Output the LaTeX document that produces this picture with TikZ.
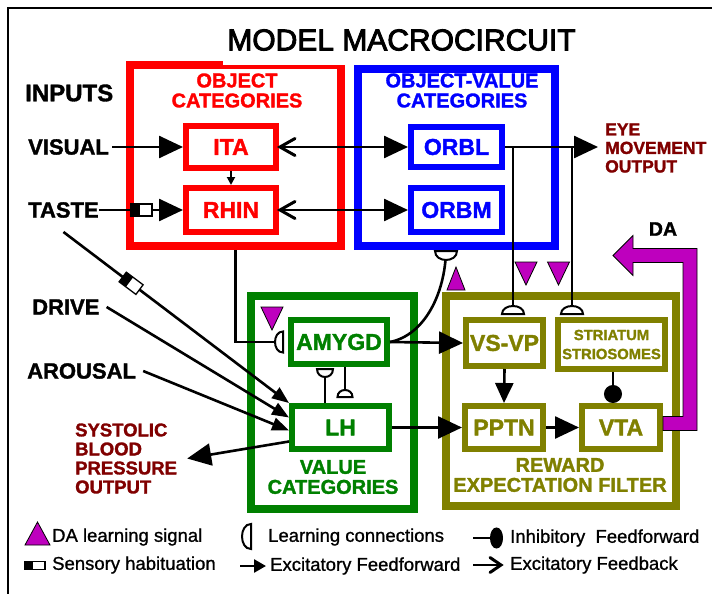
\documentclass[tikz,border=0pt]{standalone}
\usepackage{fontspec}
\setmainfont{Liberation Sans}[BoldFeatures={FakeBold=1.5}]
\newfontfamily\mcTitleFont{Liberation Sans}[FakeBold=3]
\newfontfamily\mcLegendFont{Liberation Sans}[FakeBold=1]
\usetikzlibrary{arrows.meta,calc}

\definecolor{olv}{RGB}{128,128,0}
\definecolor{grn}{RGB}{0,128,0}
\definecolor{maroon}{RGB}{128,0,0}
\definecolor{dapurple}{RGB}{190,0,190}

\newcommand\fLabel{\fontsize{23}{26}\selectfont\bfseries}
\newcommand\fTitle{\fontsize{20}{20}\selectfont\bfseries}
\newcommand\fSide{\fontsize{22}{26}\selectfont\bfseries}
\newcommand\fOut{\fontsize{17.5}{18.5}\selectfont\bfseries}
\newcommand\fSys{\fontsize{18.5}{19}\selectfont\bfseries}
\newcommand\fLegend{\mcLegendFont\fontsize{18.5}{22}\selectfont}
\newcommand\fStrio{\fontsize{14.8}{19}\selectfont\bfseries}

\tikzset{
  bigbox/.style={draw=#1, line width=8pt, inner sep=0pt},
  inbox/.style={draw=#1, text=#1, line width=6pt, inner sep=0pt, font=\fLabel},
  boxtitle/.style={text=#1, font=\fTitle, align=center, inner sep=0pt},
  sidelbl/.style={font=\fSide, inner sep=0pt, anchor=west},
  outlbl/.style={text=maroon, align=left, inner sep=0pt, anchor=west},
  legendtxt/.style={font=\fLegend, inner sep=0pt, anchor=west},
  conn/.style={line width=2.6pt},
  ff/.style={conn, -{Triangle[length=24pt,width=22pt]}},
  ffm/.style={conn, -{Triangle[length=17pt,width=13pt]}},
  ffv/.style={conn, -{Triangle[length=20pt,width=18pt]}},
  ffs/.style={line width=1.8pt, -{Triangle[length=8pt,width=8pt]}},
  inh/.style={conn, -{Circle[length=18pt]}},
  dasig/.style={fill=dapurple, draw=black, line width=0.8pt},
  synapse/.style={fill=white, draw=black, line width=2pt},
  pics/syn/.style 2 args={code={
    \draw[synapse] (-#1,0) .. controls (-#1,{-1.33*(#2)}) and (#1,{-1.33*(#2)}) .. (#1,0) -- cycle;}},
  pics/datri/.style 2 args={code={
    \draw[dasig] (-#1,0) -- (#1,0) -- (0,#2) -- cycle;}},
  pics/hab/.style={code={
    \draw[line width=1.3pt, fill=white] (-10.5,-6) rectangle (10.5,6);
    \fill (-10.5,-6) rectangle (-2,6);}},
  % open feedback head, tip at the origin, pointing to -x
  pics/fbhead/.style 2 args={code={
    \draw[line width=3pt, line cap=round, line join=miter]
      (#1,{-(#2)/2}) -- (0,0) -- (#1,{(#2)/2});}},
}

\begin{document}
\begin{tikzpicture}[x=1pt,y=-1pt]
\useasboundingbox (0,0) rectangle (712,594);

% page frame
\draw[line width=1.6pt] (8,594) -- (8,8) -- (712,8);

% outer region boxes
\node[bigbox=red,  minimum width=211pt, minimum height=181pt] (objcat) at (235.5,155.5) {};
\node[bigbox=blue, minimum width=197pt, minimum height=177pt] (ovcat)  at (456.5,157.5) {};
\node[bigbox=grn,  minimum width=163pt, minimum height=213pt] (valcat) at (332.5,402.5) {};
\node[bigbox=olv,  minimum width=230pt, minimum height=210pt] (refilt) at (561,401) {};

% region titles
\node[boxtitle=red]  (objt) at (237,90.5)  {OBJECT\\CATEGORIES};
\node[boxtitle=blue] (ovt)  at (462,90.5)  {OBJECT-VALUE\\CATEGORIES};
\node[boxtitle=grn]  (valt) at (333,477) {VALUE\\CATEGORIES};
\node[boxtitle=olv]  (reft) at (560,475) {REWARD\\EXPECTATION FILTER};

% inner boxes
\node[inbox=red,  minimum width=90pt, minimum height=42pt] (ita)  at (231,147) {ITA};
\node[inbox=red,  minimum width=90pt, minimum height=44pt] (rhin) at (231,210) {RHIN};
\node[inbox=blue, minimum width=91pt, minimum height=40pt] (orbl) at (456.5,147) {ORBL};
\node[inbox=blue, minimum width=91pt, minimum height=44pt] (orbm) at (456.5,210) {ORBM};
\node[inbox=grn,  minimum width=96pt, minimum height=44pt] (amygd) at (339,342) {AMYGD};
\node[inbox=grn,  minimum width=97pt, minimum height=43pt] (lh)    at (340.5,427.5) {LH};
\node[inbox=olv,  minimum width=77pt, minimum height=46pt] (vsvp)  at (504.5,343) {VS-VP};
\node[inbox=olv,  minimum width=107pt, minimum height=49pt, font=\fStrio, align=center] (strio) at (611.5,344.5) {STRIATUM\\STRIOSOMES};
\node[inbox=olv,  minimum width=78pt, minimum height=43pt] (pptn)  at (504,427.5) {PPTN};
\node[inbox=olv,  minimum width=78pt, minimum height=43pt] (vta)   at (621,427.5) {VTA};

% side labels
\node[sidelbl, font=\fontsize{24}{26}\selectfont\bfseries] (inputs) at (25,93) {INPUTS};
\node[sidelbl] (visual)  at (28,147) {VISUAL};
\node[sidelbl] (taste)   at (28,210) {TASTE};
\node[sidelbl] (drive)   at (32,307) {DRIVE};
\node[sidelbl] (arousal) at (27,371) {AROUSAL};
\node[outlbl, font=\fOut] (eye) at (605,148) {EYE\\MOVEMENT\\OUTPUT};
\node[outlbl, font=\fSys] (sys) at (75,458.5) {SYSTOLIC\\BLOOD\\PRESSURE\\OUTPUT};
\node[font=\fontsize{19.5}{22}\selectfont\bfseries, inner sep=0pt] (da) at (663,229) {DA};

% sensory inputs
\draw[ff] ([xshift=3pt]visual.east) -- (ita.west);
\draw[ff] (taste.east) -- (rhin.west);
\pic at (141.5,210) {hab};
\draw[ffs] (ita.south) -- (rhin.north);

% object <-> object-value (feedforward with open feedback head)
\draw[ff] (ita.east) -- (orbl.west);
\pic at ([xshift=1pt]ita.east) {fbhead={15}{17}};
\draw[ff] (rhin.east) -- (orbm.west);
\pic at ([xshift=1pt]rhin.east) {fbhead={15}{17}};

% eye movement output
\coordinate (eyetip) at ([xshift=-7pt]eye.west);
\draw[ff] (orbl.east) -- (orbl.east -| eyetip);

% learned projections onto the striatum
\coordinate (s1) at (513,314);
\coordinate (s2) at (572,314);
\draw[conn] (s1 |- orbl.east) -- (s1);
\draw[conn] (s2 |- orbl.east) -- (s2);
\pic at (s1) {syn={11}{8}};
\pic at (s2) {syn={11}{8}};
\pic at (526,262) {datri={11}{23}};
\pic at (558.5,262) {datri={11}{23}};

% amygdala to orbitofrontal learning path
\coordinate (s6) at (446,251);
\draw[conn] (amygd.east) .. controls +(35,-7) and +(-1,42) .. (s6);
\pic at (s6) {syn={11}{-9}};
\pic at (456,290) {datri={9}{-23}};

% object categories to amygdala
\coordinate (s3) at (283,342);
\draw[conn] (objcat.south) |- (s3);
\pic[rotate=90] at (s3) {syn={10.5}{8}};
\pic at (272,307) {datri={11}{23}};

% amygdala <-> lateral hypothalamus
\coordinate (s4) at (325,369);
\draw[conn] (s4 |- lh.north) -- (s4);
\pic at (s4) {syn={8}{-8}};
\coordinate (s5) at (345,397);
\draw[conn] (s5 |- amygd.south) -- (s5);
\pic at (s5) {syn={7.5}{7}};

% internal-state inputs to LH
\coordinate (tst) at ([yshift=-14pt]taste.south);
\draw[ffm] (tst) -- (lh.north west);
\pic[rotate=-36.9] at ($(tst)!0.3!(lh.north west)$) {hab};
\draw[ffm] ([xshift=7pt]drive.east) -- ([yshift=10pt]lh.west);
\draw[ffm] ([xshift=7pt]arousal.east) -- ([yshift=-3pt]lh.west);

% blood pressure output
\coordinate (systip) at ([xshift=10pt]sys.east);
\draw[ff] ([yshift=-14pt]lh.west) -- (systip);

% value and reward pathways
\draw[ff] (amygd.east) -- (vsvp.west);
\draw[ff] (lh.east) -- (pptn.west);
\draw[ffv] (vsvp.south) -- (pptn.north);
\draw[ff] (pptn.east) -- (vta.west);
\coordinate (inhs) at ([xshift=1.5pt]strio.south);
\draw[inh] (inhs) -- (inhs |- vta.north);

% dopamine output arrow
\draw[dasig] ([shift={(0,-11)}]vta.east) -- ++(20,0) -- ++(0,-154) -- ++(-50,0)
  -- ++(0,13) -- ++(-20,-20) -- ++(20,-20) -- ++(0,13) -- ++(64,0)
  -- ++(0,182) -- ++(-34,0) -- cycle;

% title
\node[font=\mcTitleFont\fontsize{30}{30}\selectfont, fill=white, inner xsep=4pt, inner ysep=0pt,
      minimum height=50pt] (title) at (401.5,40) {MODEL MACROCIRCUIT};

% legend
\pic at (37.5,545) {datri={12.5}{-23}};
\node[legendtxt] (lgda) at (52,537) {DA learning signal};
\pic[yscale=0.65, xscale=0.95] at (35,565.5) {hab};
\node[legendtxt] (lghab) at (52,565) {Sensory habituation};
\pic[rotate=90] at (251,536.5) {syn={12.5}{9}};
\node[legendtxt] (lglc) at (268,537) {Learning connections};
\coordinate (lgff1) at (240,566);
\node[legendtxt] (lgff) at (270,566) {Excitatory Feedforward};
\draw[conn, -{Triangle[length=12pt,width=13pt]}] (lgff1) -- ([xshift=-4pt]lgff.west);
\coordinate (lgin1) at (473,538);
\node[legendtxt] (lgin) at (510,538) {Inhibitory~ Feedforward};
\draw[conn, -{Ellipse[length=13pt,width=21pt]}] (lgin1) -- ([xshift=-7pt]lgin.west);
\coordinate (lgfb1) at (473,565);
\coordinate (lgfb2) at (501,565);
\node[legendtxt] (lgfb) at (510,565) {Excitatory Feedback};
\draw[line width=2.2pt] (lgfb1) -- (lgfb2);
\pic[rotate=180] at (lgfb2) {fbhead={11}{15}};

\end{tikzpicture}
\end{document}
